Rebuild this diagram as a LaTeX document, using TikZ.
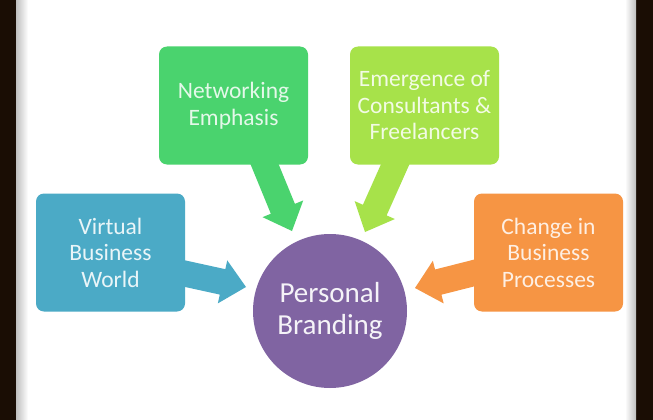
\documentclass[tikz,border=0pt]{standalone}
\usepackage{fontspec}
\setmainfont{Carlito}
\usetikzlibrary{calc}
\definecolor{frameDark}{HTML}{1A0D04}
\definecolor{cBlue}{HTML}{4BAAC6}
\definecolor{cGreen}{HTML}{4AD36E}
\definecolor{cLime}{HTML}{A7E24A}
\definecolor{cOrange}{HTML}{F69544}
\definecolor{cPurple}{HTML}{8064A2}
\newcommand\blockarrow[3]{%
  \path ($(#2)!24pt!(#1)$) coordinate (ah);
  \fill[#3] ($(#1)!13pt!90:(#2)$) -- ($(ah)!13pt!-90:(#1)$) -- ($(ah)!22pt!-90:(#1)$) -- (#2)
    -- ($(ah)!22pt!90:(#1)$) -- ($(ah)!13pt!90:(#1)$) -- ($(#1)!13pt!-90:(#2)$) -- cycle;}
\tikzset{
  box/.style={rounded corners=8pt, minimum width=149pt, minimum height=118pt,
    align=center, inner sep=0pt, font=\fontsize{23.5}{26.5}\selectfont},
}
\begin{document}
\begin{tikzpicture}[x=1pt,y=-1pt]
\useasboundingbox (0,0) rectangle (653,420);
\fill[white] (0,0) rectangle (653,420);
% frame
\fill[frameDark] (0,0) rectangle (16,420);
\fill[frameDark] (636,0) rectangle (653,420);
\shade[left color=gray!50, right color=white] (16,0) rectangle (28,420);
\shade[left color=white, right color=gray!50] (625,0) rectangle (636,420);
% arrow coordinates
\coordinate (va) at (182,273);
\coordinate (vt) at (246,287);
\coordinate (ca) at (478,272);
\coordinate (ct) at (415,288);
\coordinate (na) at (262,158);
\coordinate (nt) at (292,231);
\coordinate (ea) at (398,158);
\coordinate (et) at (365,232);
% arrows
\blockarrow{va}{vt}{cBlue}
\blockarrow{ca}{ct}{cOrange}
\blockarrow{na}{nt}{cGreen}
\blockarrow{ea}{et}{cLime}
% boxes
\node[box, fill=cGreen, text=white!85!cGreen] (net) at (233.5,105.5) {Networking\\Emphasis};
\node[box, fill=cLime, text=white!85!cLime] (emer) at (424.5,105.5) {Emergence of\\Consultants \&\\Freelancers};
\node[box, fill=cBlue, text=white!88!cBlue] (virt) at (110.5,252.5) {Virtual\\Business\\World};
\node[box, fill=cOrange, text=white!85!cOrange] (chg) at (548.5,252.5) {Change in\\Business\\Processes};
\node[circle, fill=cPurple, minimum size=154pt, inner sep=0pt, align=center,
  text=white!92!cPurple, font=\fontsize{29}{32}\selectfont] (pb) at (330,311) {Personal\\Branding};
\end{tikzpicture}
\end{document}
